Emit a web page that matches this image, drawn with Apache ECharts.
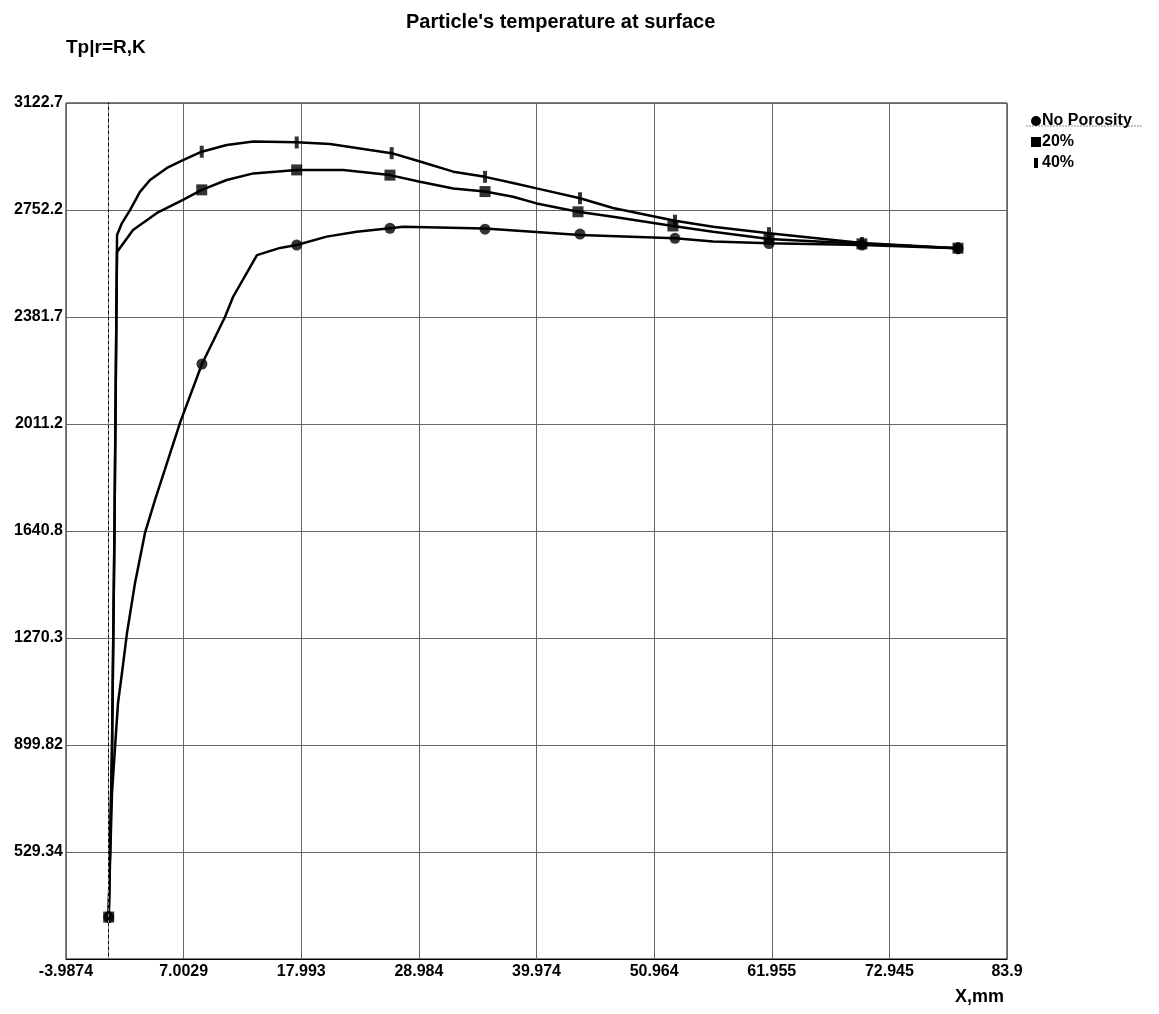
<!DOCTYPE html>
<html>
<head>
<meta charset="utf-8">
<script src="https://cdn.jsdelivr.net/npm/echarts@6/dist/echarts.min.js"></script>
<style>
  html, body { margin: 0; padding: 0; background: #fff; }
  #chart { width: 1159px; height: 1014px; }
</style>
</head>
<body>
<div id="chart"></div>
<script>
// axis ticks as printed on the original plot
const xTickLabels = ['-3.9874', '7.0029', '17.993', '28.984', '39.974', '50.964', '61.955', '72.945', '83.9'];
const yTickLabels = ['158.86', '529.34', '899.82', '1270.3', '1640.8', '2011.2', '2381.7', '2752.2', '3122.7'];
const xMin = -3.9874, xMax = 83.9;
const yMin = 158.86, yMax = 3122.7;

// curves [X mm, T K]
const noPorosityCurve = [
    [0, 304], [0.07, 422], [0.31, 734], [0.68, 941], [0.87, 1045], [1.24, 1149], [1.71, 1288],
    [2.46, 1461], [3.39, 1634], [4.32, 1748], [6.66, 2015], [8.71, 2219], [10.86, 2382],
    [11.61, 2451], [13.85, 2596], [16.0, 2621], [17.56, 2631], [20.36, 2660], [23.16, 2677],
    [26.27, 2689], [27.51, 2694], [35.15, 2688], [44.02, 2666], [52.89, 2654], [56.44, 2643],
    [61.67, 2637], [70.35, 2631], [79.32, 2620]
];
const porosity20Curve = [
    [0, 304], [0.31, 883], [0.54, 1644], [0.73, 2441], [0.78, 2607], [2.27, 2683], [4.51, 2742],
    [6.94, 2787], [8.69, 2822], [11.02, 2856], [13.51, 2879], [17.56, 2891], [21.91, 2891],
    [26.27, 2873], [29.07, 2850], [32.18, 2827], [35.15, 2816], [37.76, 2798], [39.97, 2775],
    [43.83, 2746], [47.10, 2729], [52.70, 2697], [56.44, 2677], [61.67, 2652], [70.35, 2635],
    [79.32, 2620]
];
const porosity40Curve = [
    [0, 304], [0.31, 883], [0.54, 1644], [0.73, 2441], [0.78, 2666], [1.24, 2707], [1.99, 2752],
    [2.92, 2815], [3.86, 2856], [5.44, 2898], [6.94, 2925], [8.69, 2954], [11.02, 2977],
    [13.51, 2989], [17.56, 2987], [20.67, 2981], [24.40, 2960], [26.43, 2949], [29.07, 2920],
    [32.18, 2885], [35.15, 2867], [37.76, 2846], [39.97, 2827], [44.02, 2793], [47.10, 2759],
    [52.89, 2715], [56.44, 2694], [61.67, 2672], [70.35, 2638], [79.32, 2620]
];

// marked points
const noPorosityMarks = [[0, 304], [8.71, 2219], [17.56, 2631], [26.27, 2689], [35.15, 2686], [44.02, 2669], [52.89, 2654], [61.67, 2636], [70.35, 2631], [79.32, 2620]];
const porosity20Marks = [[0, 304], [8.69, 2822], [17.56, 2891], [26.27, 2873], [35.15, 2816], [43.83, 2746], [52.70, 2697], [61.67, 2652], [70.35, 2635], [79.32, 2620]];
const porosity40Marks = [[0, 304], [8.69, 2954], [17.56, 2986], [26.43, 2949], [35.15, 2867], [44.02, 2793], [52.89, 2715], [61.67, 2672], [70.35, 2638], [79.32, 2620]];

const xStep = (xMax - xMin) / 8;
const yStep = (yMax - yMin) / 8;
const font = '"Liberation Sans", Arial, sans-serif';

const chart = echarts.init(document.getElementById('chart'));

const lineSeries = (name, data) => ({
    name: name,
    type: 'line',
    data: data,
    symbol: 'none',
    smooth: false,
    lineStyle: {color: '#000', width: 2.5},
    itemStyle: {color: '#000'},
    z: 3
});

const markSeries = (name, data, symbol, size) => ({
    name: name,
    type: 'scatter',
    data: data,
    symbol: symbol,
    symbolSize: size,
    itemStyle: {color: '#000'},
    z: 4
});

const option = {
    animation: false,
    backgroundColor: '#fff',
    title: {
        text: "Particle's temperature at surface",
        left: 401,
        top: 7,
        textStyle: {fontFamily: font, fontWeight: 'bold', fontSize: 20, color: '#000'}
    },
    legend: {
        orient: 'vertical',
        left: 1026,
        top: 108,
        itemWidth: 10,
        itemHeight: 10,
        itemGap: 5,
        selectedMode: false,
        textStyle: {fontFamily: font, fontWeight: 'bold', fontSize: 16, color: '#000', padding: [0, 0, 0, -4]},
        data: [
            {name: 'No Porosity', icon: 'circle'},
            {name: '20%', icon: 'rect'},
            {name: '40%', icon: 'path://M0,0H4V10H0Z'}
        ]
    },
    grid: {
        left: 66, top: 103, right: 152, bottom: 55,
        show: true, borderColor: '#000', borderWidth: 1
    },
    xAxis: {
        type: 'value',
        min: xMin,
        max: xMax,
        interval: xStep,
        axisLine: {lineStyle: {color: '#000', width: 1}},
        axisTick: {show: false},
        splitLine: {lineStyle: {color: '#666', width: 1}},
        axisLabel: {
            margin: 5,
            color: '#000',
            fontFamily: font,
            fontWeight: 'bold',
            fontSize: 16,
            formatter: v => xTickLabels[Math.round((v - xMin) / xStep)]
        }
    },
    yAxis: {
        type: 'value',
        min: yMin,
        max: yMax,
        interval: yStep,
        axisLine: {lineStyle: {color: '#000', width: 1}},
        axisTick: {show: false},
        splitLine: {lineStyle: {color: '#666', width: 1}},
        axisLabel: {
            margin: 3,
            showMinLabel: false,
            color: '#000',
            fontFamily: font,
            fontWeight: 'bold',
            fontSize: 16,
            formatter: v => yTickLabels[Math.round((v - yMin) / yStep)]
        }
    },
    graphic: [
        {
            type: 'text',
            left: 66,
            top: 38,
            style: {text: 'Tp|r=R,K', fontFamily: font, fontWeight: 'bold', fontSize: 19, fill: '#000'}
        },
        {
            type: 'text',
            left: 955,
            top: 988,
            style: {text: 'X,mm', fontFamily: font, fontWeight: 'bold', fontSize: 18, fill: '#000'}
        },
        {
            type: 'line',
            shape: {x1: 1026, y1: 126, x2: 1143, y2: 126},
            style: {stroke: '#888', lineWidth: 1, lineDash: [2, 1]}
        }
    ],
    series: [
        Object.assign(lineSeries('No Porosity', noPorosityCurve), {
            markLine: {
                silent: true,
                symbol: ['none', 'none'],
                label: {show: false},
                lineStyle: {type: [3, 3], color: '#888', width: 1},
                data: [{xAxis: 0}]
            }
        }),
        lineSeries('20%', porosity20Curve),
        lineSeries('40%', porosity40Curve),
        markSeries('No Porosity', noPorosityMarks, 'circle', 11),
        markSeries('20%', porosity20Marks, 'rect', 11),
        markSeries('40%', porosity40Marks, 'rect', [4, 12])
    ]
};

chart.setOption(option);
</script>
</body>
</html>
